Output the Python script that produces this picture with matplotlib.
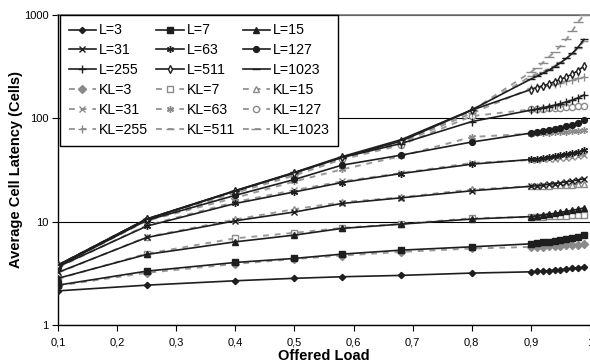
import matplotlib
matplotlib.use("Agg")
import matplotlib.pyplot as plt
from matplotlib.ticker import FixedLocator, FixedFormatter, NullLocator

plt.rcParams['font.family'] = ['Liberation Sans', 'DejaVu Sans']

# Offered load
x = [0.1, 0.25, 0.4, 0.5, 0.58, 0.68, 0.8, 0.9, 0.91, 0.92, 0.93, 0.94, 0.95, 0.96, 0.97, 0.98, 0.99]

L3 = [2.14, 2.43, 2.68, 2.83, 2.93, 3.02, 3.18, 3.27, 3.3, 3.33, 3.36, 3.4, 3.44, 3.48, 3.53, 3.58, 3.65]
L7 = [2.43, 3.32, 4.03, 4.41, 4.85, 5.3, 5.71, 6.1, 6.2, 6.3, 6.4, 6.5, 6.6, 6.75, 6.9, 7.1, 7.4]
L15 = [2.83, 4.82, 6.38, 7.41, 8.6, 9.46, 10.6, 11.2, 11.4, 11.6, 11.8, 12.0, 12.3, 12.6, 12.9, 13.2, 13.6]
L31 = [3.23, 7.03, 10.2, 12.4, 15.0, 17.0, 19.9, 22.0, 22.3, 22.6, 23.0, 23.4, 23.8, 24.3, 24.8, 25.4, 26.0]
L63 = [3.66, 9.05, 15.0, 19.4, 23.9, 29.2, 36.0, 40.0, 40.6, 41.3, 42.0, 42.8, 43.7, 44.7, 45.8, 47.2, 49.0]
L127 = [3.7, 10.3, 18.0, 25.6, 35.2, 44.0, 59.0, 72.0, 73.5, 75.0, 77.0, 79.0, 81.5, 84.0, 87.0, 91.0, 96.0]
L255 = [3.75, 10.5, 19.8, 29.6, 41.7, 57.0, 93.0, 120, 123, 126, 130, 134, 139, 144, 150, 158, 168]
L511 = [3.8, 10.6, 19.9, 29.8, 42, 60, 120, 190, 198, 206, 215, 226, 238, 252, 268, 290, 320]
L1023 = [3.8, 10.6, 20.0, 30.0, 42.5, 62, 121, 240, 255, 272, 292, 315, 345, 380, 425, 490, 580]

KL3 = [2.40, 3.2, 3.9, 4.35, 4.7, 5.1, 5.5, 5.7, 5.72, 5.75, 5.78, 5.82, 5.86, 5.9, 5.95, 6.0, 6.1]
KL7 = [2.8, 4.9, 6.9, 7.8, 8.7, 9.5, 10.8, 11.1, 11.15, 11.2, 11.25, 11.3, 11.35, 11.4, 11.5, 11.6, 11.7]
KL15 = [3.2, 7.1, 10.5, 13.2, 15.4, 17.2, 20.5, 22.0, 22.1, 22.2, 22.3, 22.4, 22.5, 22.6, 22.8, 23.0, 23.3]
KL31 = [3.6, 9.2, 15.5, 20.2, 24.5, 29.5, 37.0, 39.5, 39.8, 40.1, 40.4, 40.8, 41.2, 41.7, 42.3, 43.0, 44.0]
KL63 = [3.7, 10.2, 17.0, 24.5, 32.0, 43.0, 66.0, 71.0, 71.5, 72.0, 72.5, 73.0, 73.5, 74.0, 74.8, 75.6, 76.5]
KL127 = [3.75, 10.4, 19.0, 28.0, 40.0, 55.0, 105, 122, 123, 124, 125, 126, 127, 128, 129.5, 131, 133]
KL255 = [3.8, 10.5, 19.5, 29.0, 41.0, 58.0, 112, 195, 200, 205, 210, 216, 222, 228, 235, 243, 252]
KL511 = [3.8, 10.6, 19.6, 29.3, 41.5, 59, 118, 255, 268, 283, 300, 322, 348, 380, 420, 480, 560]
KL1023 = [3.8, 10.6, 19.8, 29.5, 42, 60, 119, 280, 310, 345, 390, 440, 500, 580, 700, 860, 1000]

L_names = ["L=3", "L=7", "L=15", "L=31", "L=63", "L=127", "L=255", "L=511", "L=1023"]
KL_names = ["KL=3", "KL=7", "KL=15", "KL=31", "KL=63", "KL=127", "KL=255", "KL=511", "KL=1023"]
L_data = [L3, L7, L15, L31, L63, L127, L255, L511, L1023]
KL_data = [KL3, KL7, KL15, KL31, KL63, KL127, KL255, KL511, KL1023]

xticks = [0.1, 0.2, 0.3, 0.4, 0.5, 0.6, 0.7, 0.8, 0.9, 1.0]
xtick_labels = ["0,1", "0,2", "0,3", "0,4", "0,5", "0,6", "0,7", "0,8", "0,9", "1"]
yticks = [1, 10, 100, 1000]
ytick_labels = ["1", "10", "100", "1000"]

# styles
L_markers = ['D', 's', '^', 'x', (6, 2, 0), 'o', '+', 'd', '_']
L_msize = [3.2, 4.2, 4.2, 4.5, 5, 4.2, 5.5, 4, 6]
L_fill = ['full', 'full', 'full', 'full', 'full', 'full', 'full', 'none', 'full']
KL_markers = ['D', 's', '^', 'x', (6, 2, 0), 'o', '+', '_', '_']
KL_msize = [3.6, 4.2, 4.2, 4.5, 5, 4.5, 5.5, 5.5, 7]
KL_fill = ['full', 'none', 'none', 'full', 'full', 'none', 'full', 'full', 'full']

dark = '#1e1e1e'
grey = '#8a8a8a'

fig = plt.figure(figsize=(5.9, 3.64), dpi=100)
ax = fig.add_axes([58/590, 39/364, 532/590, 310/364])

handles_L = []
handles_KL = []
for name, d, m, ms, f in zip(KL_names, KL_data, KL_markers, KL_msize, KL_fill):
    h, = ax.plot(x, d, color='#9a9a9a', lw=1.4, ls=(0, (3, 3)), marker=m, ms=ms,
                 mfc=(grey if f == 'full' else 'white'), mec=grey, mew=1.0, label=name, zorder=3)
    handles_KL.append(h)
for name, d, m, ms, f in zip(L_names, L_data, L_markers, L_msize, L_fill):
    h, = ax.plot(x, d, color=dark, lw=1.2, marker=m, ms=ms,
                 mfc=(dark if f == 'full' else 'white'), mec=dark, mew=1.0, label=name, zorder=4)
    handles_L.append(h)

ax.set_yscale('log')
ax.set_xlim(0.1, 1.0)
ax.set_ylim(1, 1000)

ax.xaxis.set_major_locator(FixedLocator(xticks))
ax.xaxis.set_major_formatter(FixedFormatter(xtick_labels))
ax.yaxis.set_major_locator(FixedLocator(yticks))
ax.yaxis.set_major_formatter(FixedFormatter(ytick_labels))
ax.yaxis.set_minor_locator(NullLocator())
ax.tick_params(axis='both', direction='out', length=4, width=0.8, labelsize=8, colors='black')
ax.tick_params(axis='x', pad=5)
ax.tick_params(axis='y', pad=3)

ax.spines['right'].set_visible(False)
ax.spines['top'].set_visible(False)
ax.spines['left'].set_linewidth(1.0)
ax.spines['bottom'].set_linewidth(1.0)
ax.yaxis.grid(True, color='black', lw=0.8)
ax.set_axisbelow(True)
ax.axhline(1000, color='#777777', lw=1.2, clip_on=False, zorder=1)

ax.set_xlabel("Offered Load", fontsize=10.5, fontweight='bold', labelpad=1)
ax.set_ylabel("Average Cell Latency (Cells)", fontsize=10.5, fontweight='bold')
ax.yaxis.set_label_coords(-0.066, 0.5)

# legend ordered row-wise as in the reference (matplotlib fills column-wise)
rows = [handles_L[0:3], handles_L[3:6], handles_L[6:9],
        handles_KL[0:3], handles_KL[3:6], handles_KL[6:9]]
ordered = [rows[r][c] for c in range(3) for r in range(6)]
leg = ax.legend(handles=ordered, labels=[h.get_label() for h in ordered], ncol=3,
                loc='upper left', bbox_to_anchor=(0.004, 1.0), borderaxespad=0,
                fontsize=10.2, handlelength=1.95, handletextpad=0.2, columnspacing=0.55,
                labelspacing=0.42, borderpad=0.6, frameon=True, fancybox=False,
                framealpha=1, edgecolor='black')
leg.get_frame().set_linewidth(1.0)
leg.set_zorder(10)

fig.savefig("out.png", dpi=100)
